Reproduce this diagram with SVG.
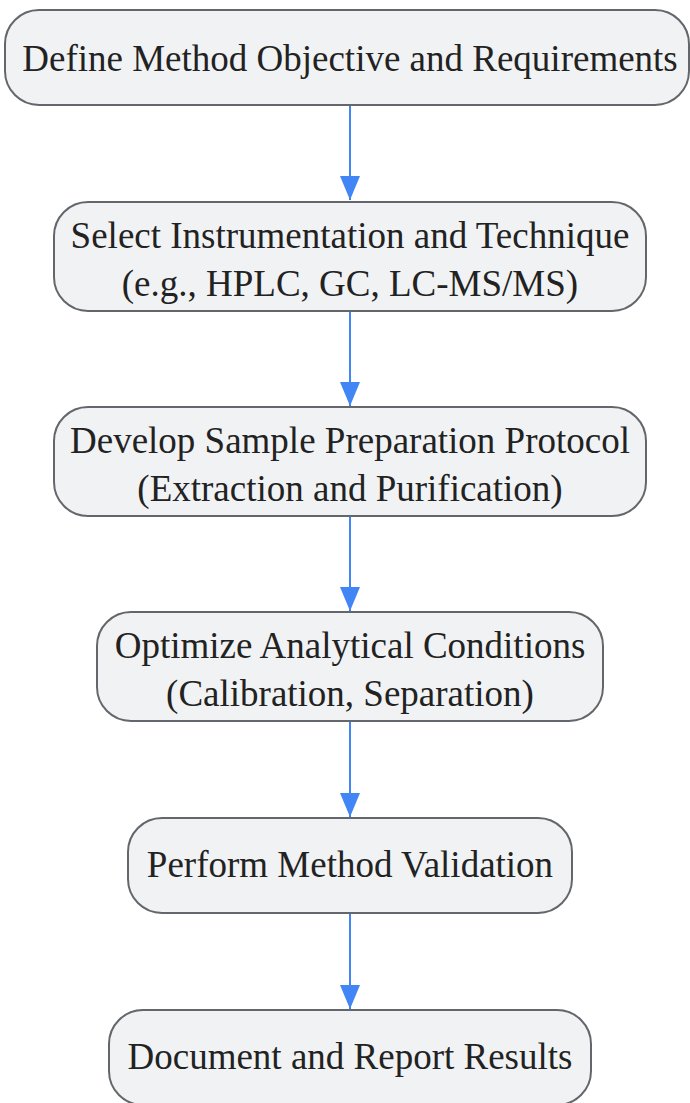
<svg xmlns="http://www.w3.org/2000/svg" width="690" height="1103" viewBox="0 0 690 1103">
<style>
.box{fill:#f1f2f4;stroke:#63666a;stroke-width:2}
.t{font-family:"Liberation Serif",serif;font-size:37px;fill:#222;text-anchor:middle}
.e{stroke:#4285f4;stroke-width:2;fill:none}
</style>
<defs>
<marker id="ah" markerWidth="24" markerHeight="20" refX="24" refY="10" orient="auto" markerUnits="userSpaceOnUse" viewBox="0 0 24 20">
<path d="M0,0 L24,10 L0,20 Z" fill="#4285f4"/>
</marker>
</defs>
<g id="edges">
<path class="e" d="M350,105 V200" marker-end="url(#ah)"/>
<path class="e" d="M350,311 V406" marker-end="url(#ah)"/>
<path class="e" d="M350,516 V611" marker-end="url(#ah)"/>
<path class="e" d="M350,721 V817" marker-end="url(#ah)"/>
<path class="e" d="M350,913 V1009" marker-end="url(#ah)"/>
</g>
<g id="n1">
<rect class="box" x="5" y="10" width="684" height="95" rx="34"/>
<text class="t" x="350" y="71">Define Method Objective and Requirements</text>
</g>
<g id="n2">
<rect class="box" x="54" y="202" width="592" height="109" rx="34"/>
<text class="t" x="350" y="248">Select Instrumentation and Technique</text>
<text class="t" x="350" y="296">(e.g., HPLC, GC, LC-MS/MS)</text>
</g>
<g id="n3">
<rect class="box" x="54" y="407" width="592" height="109" rx="34"/>
<text class="t" x="350" y="453">Develop Sample Preparation Protocol</text>
<text class="t" x="350" y="501">(Extraction and Purification)</text>
</g>
<g id="n4">
<rect class="box" x="97" y="612" width="506" height="109" rx="34"/>
<text class="t" x="350" y="658">Optimize Analytical Conditions</text>
<text class="t" x="350" y="706">(Calibration, Separation)</text>
</g>
<g id="n5">
<rect class="box" x="128" y="818" width="444" height="95" rx="34"/>
<text class="t" x="350" y="877">Perform Method Validation</text>
</g>
<g id="n6">
<rect class="box" x="109" y="1010" width="482" height="95" rx="34"/>
<text class="t" x="350" y="1069">Document and Report Results</text>
</g>
</svg>
